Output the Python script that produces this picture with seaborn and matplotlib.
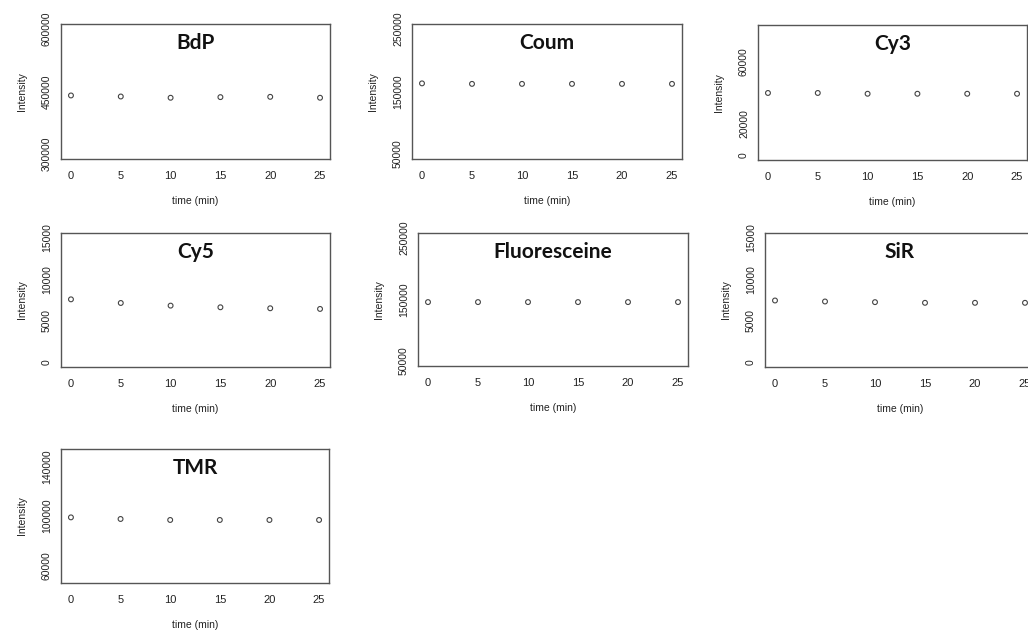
import pandas as pd
import numpy as np
import seaborn as sns
import matplotlib.pyplot as plt
from matplotlib import font_manager
from matplotlib.ticker import FixedLocator

sns.set_theme(style="white")

# make sure the regular (not narrow) Liberation Sans is the one in use
for f in font_manager.findSystemFonts():
    if f.endswith('LiberationSans-Regular.ttf') or f.endswith('LiberationSans-Bold.ttf'):
        font_manager.fontManager.addfont(f)
plt.rcParams['font.family'] = ['Liberation Sans', 'DejaVu Sans']
plt.rcParams['font.stretch'] = 'normal'

# intensity readings, one list per dye, at the same time points
time_min = [0, 5, 10, 15, 20, 25]
bdp = [440500, 438000, 435000, 436500, 437200, 435000]
coum = [163000, 162200, 162200, 162200, 162200, 162200]
cy3 = [39700, 39700, 39200, 39200, 39200, 39200]
cy5 = [7580, 7140, 6820, 6620, 6500, 6420]
fluoresceine = [145800, 145800, 145800, 145800, 145800, 145800]
sir = [7440, 7320, 7240, 7160, 7160, 7160]
tmr = [98900, 97600, 96800, 96800, 96800, 96800]

dyes = ['BdP', 'Coum', 'Cy3', 'Cy5', 'Fluoresceine', 'SiR', 'TMR']
values = [bdp, coum, cy3, cy5, fluoresceine, sir, tmr]

# y axis: (lower, upper, tick list, labelled ticks)
y_ranges = {
    'BdP': (300000, 600000, list(range(300000, 600001, 50000)), [300000, 450000, 600000]),
    'Coum': (50000, 250000, list(range(50000, 250001, 50000)), [50000, 150000, 250000]),
    'Cy3': (0, 80000, list(range(0, 80001, 20000)), [0, 20000, 60000]),
    'Cy5': (0, 15000, list(range(0, 15001, 5000)), [0, 5000, 10000, 15000]),
    'Fluoresceine': (50000, 250000, list(range(50000, 250001, 50000)), [50000, 150000, 250000]),
    'SiR': (0, 15000, list(range(0, 15001, 5000)), [0, 5000, 10000, 15000]),
    'TMR': (50000, 150000, list(range(60000, 140001, 20000)), [60000, 100000, 140000]),
}

df = pd.concat([pd.DataFrame({'dye': d, 'time': time_min, 'intensity': v})
                for d, v in zip(dyes, values)], ignore_index=True)

W, H = 1028, 633
# plot box of each panel in pixels: left, top, right, bottom
boxes = {
    'BdP': (61, 24, 330, 159),
    'Coum': (412, 24, 682, 159),
    'Cy3': (758, 25, 1027, 160),
    'Cy5': (61, 233, 330, 367),
    'Fluoresceine': (418, 233, 688, 366),
    'SiR': (765, 233, 1035, 367),
    'TMR': (61, 449, 329, 583),
}

fig = plt.figure(figsize=(W / 100, H / 100), dpi=100)
fig.patch.set_facecolor('white')

edge = '#555555'
for dye in dyes:
    l, t, r, b = boxes[dye]
    ax = fig.add_axes([l / W, 1 - b / H, (r - l) / W, (b - t) / H])
    sub = df[df['dye'] == dye]
    sns.scatterplot(data=sub, x='time', y='intensity', ax=ax, marker='o',
                    s=12, facecolor='none', edgecolor='#444444', linewidth=0.8)

    lo, hi, ticks, labelled = y_ranges[dye]
    pad = (hi - lo) * 0.04
    ax.set_ylim(lo - pad, hi + pad)
    ax.set_xlim(-1, 26)
    ax.set_xticks(time_min)
    ax.set_xticklabels([str(x) for x in time_min])
    ax.yaxis.set_major_locator(FixedLocator(ticks))
    ax.set_yticklabels([str(v) if v in labelled else '' for v in ticks],
                       rotation=90, va='center')

    for sp in ax.spines.values():
        sp.set_visible(True)
        sp.set_color(edge)
        sp.set_linewidth(1.0)
    ax.tick_params(axis='both', direction='out', length=3.5, width=0.9,
                   color=edge, labelcolor='#222222')
    ax.tick_params(axis='x', pad=5, labelsize=8)
    ax.tick_params(axis='y', pad=3, labelsize=7.5)
    ax.set_xlabel('time (min)', fontsize=7.5, color='#222222', labelpad=11)
    ax.set_ylabel('Intensity', fontsize=7.5, color='#222222', labelpad=11)
    ax.text(0.5, 0.86, dye, transform=ax.transAxes, ha='center', va='center',
            fontsize=15, fontweight='bold', family=['Lato', 'DejaVu Sans'],
            color='#111111')

fig.savefig('out.png', dpi=100)
